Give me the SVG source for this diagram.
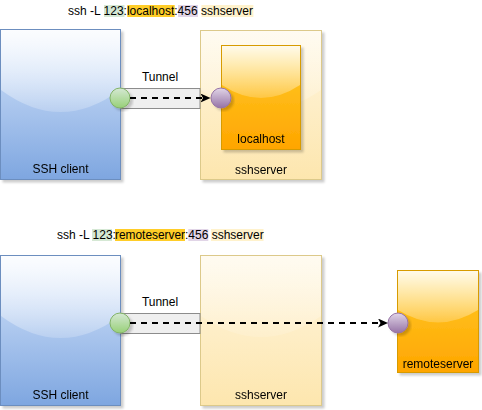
<svg xmlns="http://www.w3.org/2000/svg" width="482" height="410" viewBox="0 0 482 410">
<style>
text{font-family:"Liberation Sans",Arial,sans-serif;font-size:12px;fill:#000}
.lbl{text-anchor:middle}
.blue{stroke:#6c8ebf;stroke-width:1}
.yel{stroke:#dcc98a;stroke-width:1}
.org{stroke:#d79b00;stroke-width:1}
.grn{fill:url(#gGreen);stroke:#82b366;stroke-width:1}
.pur{fill:url(#gPurple);stroke:#9673a6;stroke-width:1}
.tun{fill:#efefef;stroke:#8c8c8c;stroke-width:1}
.glass{fill:url(#gGlass);stroke:none}
.conn{fill:none;stroke:#000;stroke-width:2;stroke-dasharray:6 5}
.sh{filter:url(#shadow)}
</style>
<defs>
<linearGradient id="gBlue" x1="0" y1="0" x2="0" y2="1"><stop offset="0" stop-color="#dae8fc"/><stop offset="1" stop-color="#7ea6e0"/></linearGradient>
<linearGradient id="gYel" x1="0" y1="0" x2="0" y2="1"><stop offset="0" stop-color="#fff6e0"/><stop offset="1" stop-color="#fde6ae"/></linearGradient>
<linearGradient id="gOrg" x1="0" y1="0" x2="0" y2="1"><stop offset="0" stop-color="#ffcd28"/><stop offset="1" stop-color="#ffa500"/></linearGradient>
<linearGradient id="gGreen" x1="0" y1="0" x2="0" y2="1"><stop offset="0" stop-color="#d5e8d4"/><stop offset="1" stop-color="#97d077"/></linearGradient>
<linearGradient id="gPurple" x1="0" y1="0" x2="0" y2="1"><stop offset="0" stop-color="#e1d5e7"/><stop offset="1" stop-color="#9673a6"/></linearGradient>
<linearGradient id="gGlass" x1="0" y1="0" x2="0" y2="1"><stop offset="0" stop-color="#fff" stop-opacity="0.9"/><stop offset="1" stop-color="#fff" stop-opacity="0.2"/></linearGradient>
<filter id="shadow" x="-10%" y="-10%" width="130%" height="130%"><feDropShadow dx="2.5" dy="2.5" stdDeviation="1" flood-color="#000" flood-opacity="0.2"/></filter>
<marker id="arrow" markerUnits="userSpaceOnUse" markerWidth="12" markerHeight="10" refX="2.5" refY="4.5" orient="auto"><path d="M0,0 L10,4.5 L0,9 L2.5,4.5 Z" fill="#000"/></marker>
</defs>

<!-- Top title -->
<g id="title-top">
<rect x="104" y="5" width="20.5" height="12" fill="#d5e8d4"/>
<rect x="127.3" y="5" width="47.4" height="12" fill="#ffcd28"/>
<rect x="178" y="5" width="20" height="12" fill="#e1d5e7"/>
<rect x="201.4" y="5" width="52" height="12" fill="#fff2cc"/>
<text x="68" y="15">ssh -L 123:localhost:456 sshserver</text>
</g>

<!-- Top row nodes -->
<g id="ssh-client-top" class="sh">
<rect x="0.5" y="29.5" width="120" height="150" fill="url(#gBlue)" class="blue"/>
<path class="glass" d="M1,30 H120 V90 Q60.5,134 1,90 Z"/>
<text class="lbl" x="60.5" y="173">SSH client</text>
</g>
<g id="sshserver-top" class="sh">
<rect x="200.5" y="30.5" width="121" height="149" fill="url(#gYel)" class="yel"/>
<path class="glass" d="M201,31 H321 V90 Q261,132 201,90 Z" opacity="0.6"/>
<text class="lbl" x="261" y="174">sshserver</text>
</g>
<g id="localhost" class="sh">
<rect x="221.5" y="45.5" width="79" height="104" fill="url(#gOrg)" class="org"/>
<path class="glass" d="M222,46 H300 V85 Q261,111 222,85 Z"/>
<text class="lbl" x="261" y="143">localhost</text>
</g>
<g id="tunnel-top">
<rect x="120.5" y="88.5" width="79.5" height="20" class="tun"/>
<text class="lbl" x="160" y="81">Tunnel</text>
</g>
<g id="port-123-top" class="sh"><circle cx="120" cy="98" r="10" class="grn"/></g>
<g id="port-456-top" class="sh"><circle cx="221" cy="98" r="10" class="pur"/></g>

<!-- Bottom title -->
<g id="title-bottom">
<rect x="92" y="229" width="20" height="12" fill="#d5e8d4"/>
<rect x="115" y="229" width="70" height="12" fill="#ffcd28"/>
<rect x="188.3" y="229" width="20" height="12" fill="#e1d5e7"/>
<rect x="211" y="229" width="52.5" height="12" fill="#fff2cc"/>
<text y="239"><tspan x="57">ssh -L 123:</tspan><tspan x="115" textLength="70" lengthAdjust="spacingAndGlyphs">remoteserver</tspan><tspan x="185">:456 sshserver</tspan></text>
</g>

<!-- Bottom row nodes -->
<g id="ssh-client-bottom" class="sh">
<rect x="0.5" y="255.5" width="120" height="150" fill="url(#gBlue)" class="blue"/>
<path class="glass" d="M1,256 H120 V316 Q60.5,360 1,316 Z"/>
<text class="lbl" x="60.5" y="399">SSH client</text>
</g>
<g id="sshserver-bottom" class="sh">
<rect x="200.5" y="255.5" width="121" height="150" fill="url(#gYel)" class="yel"/>
<path class="glass" d="M201,256 H321 V316 Q261,358 201,316 Z" opacity="0.6"/>
<text class="lbl" x="261" y="399">sshserver</text>
</g>
<g id="remoteserver" class="sh">
<rect x="397.5" y="270.5" width="81" height="102" fill="url(#gOrg)" class="org"/>
<path class="glass" d="M398,271 H478 V310 Q438,335 398,310 Z"/>
<text class="lbl" x="438" y="368">remoteserver</text>
</g>
<g id="tunnel-bottom">
<rect x="120.5" y="313.5" width="79.5" height="20" class="tun"/>
<text class="lbl" x="160" y="306">Tunnel</text>
</g>
<g id="port-123-bottom" class="sh"><circle cx="120" cy="323" r="10" class="grn"/></g>
<g id="port-456-bottom" class="sh"><circle cx="398" cy="323" r="10" class="pur"/></g>

<!-- Connectors -->
<g id="connectors">
<line class="conn" x1="130" y1="98" x2="203" y2="98" marker-end="url(#arrow)"/>
<line class="conn" x1="130" y1="323" x2="380.5" y2="323" marker-end="url(#arrow)"/>
</g>
</svg>
